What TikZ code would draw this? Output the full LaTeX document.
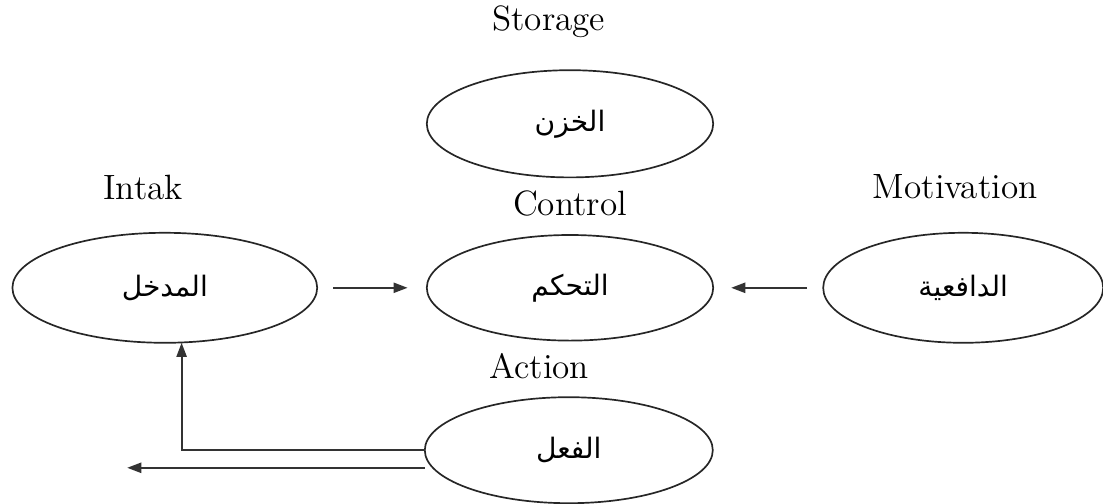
\documentclass[tikz,border=0pt]{standalone}
\usepackage{fontspec}
\usepackage{tikz}
\usetikzlibrary{arrows.meta,shapes.geometric}
\TeXXeTstate=1
\newfontfamily\arabicfont[Script=Arabic]{DejaVu Sans}
\tikzset{
  stage-oval/.style={draw=black!85, ellipse, line width=0.6pt, inner sep=0pt, outer sep=0pt,
    font=\arabicfont\fontsize{10}{12}\selectfont},
  stage-title/.style={font=\fontsize{12.5}{15}\selectfont, inner sep=0pt},
  stage-link/.style={-{Triangle[length=5pt,width=3.6pt]}, line width=0.7pt, draw=black!80}
}

\begin{document}
\begin{tikzpicture}[x=1cm, y=1cm]
  \useasboundingbox (0,0) rectangle (13.7875,6.2875);

  % Storage
  \node[stage-title] (storetitle) at (6.86,6.01) {Storage};
  \node[stage-oval, minimum width=3.58cm, minimum height=1.34cm] (store) at (7.125,4.74) {\beginR الخزن\endR};

  % Control, in the middle
  \node[stage-title] (ctrltitle) at (7.125,3.75) {Control};
  \node[stage-oval, minimum width=3.58cm, minimum height=1.32cm] (ctrl) at (7.125,2.69) {\beginR التحكم\endR};

  % Intake on the left
  \node[stage-title] (intaketitle) at (1.79,3.95) {Intak};
  \node[stage-oval, minimum width=3.81cm, minimum height=1.375cm] (intake) at (2.06,2.69) {\beginR المدخل\endR};

  % Motivation on the right
  \node[stage-title] (motivtitle) at (11.94,3.95) {Motivation};
  \node[stage-oval, minimum width=3.5cm, minimum height=1.375cm] (motiv) at (12.04,2.69) {\beginR الدافعية\endR};

  % Action at the bottom
  \node[stage-title] (acttitle) at (6.74,1.71) {Action};
  \node[stage-oval, minimum width=3.6cm, minimum height=1.325cm] (act) at (7.11,0.66) {\beginR الفعل\endR};

  % Inputs into control
  \draw[stage-link, shorten <=0.2cm, shorten >=0.24cm] (intake) -- (ctrl);
  \draw[stage-link, shorten <=0.2cm, shorten >=0.225cm] (motiv) -- (ctrl);

  % Feedback from action back to intake, and the outgoing arrow
  \draw[stage-link] (act.west) -| ([xshift=0.21cm]intake.south);
  \coordinate (out) at (1.59,0.44);
  \draw[stage-link] ([yshift=-0.22cm]act.west) -- (out);
\end{tikzpicture}
\end{document}
